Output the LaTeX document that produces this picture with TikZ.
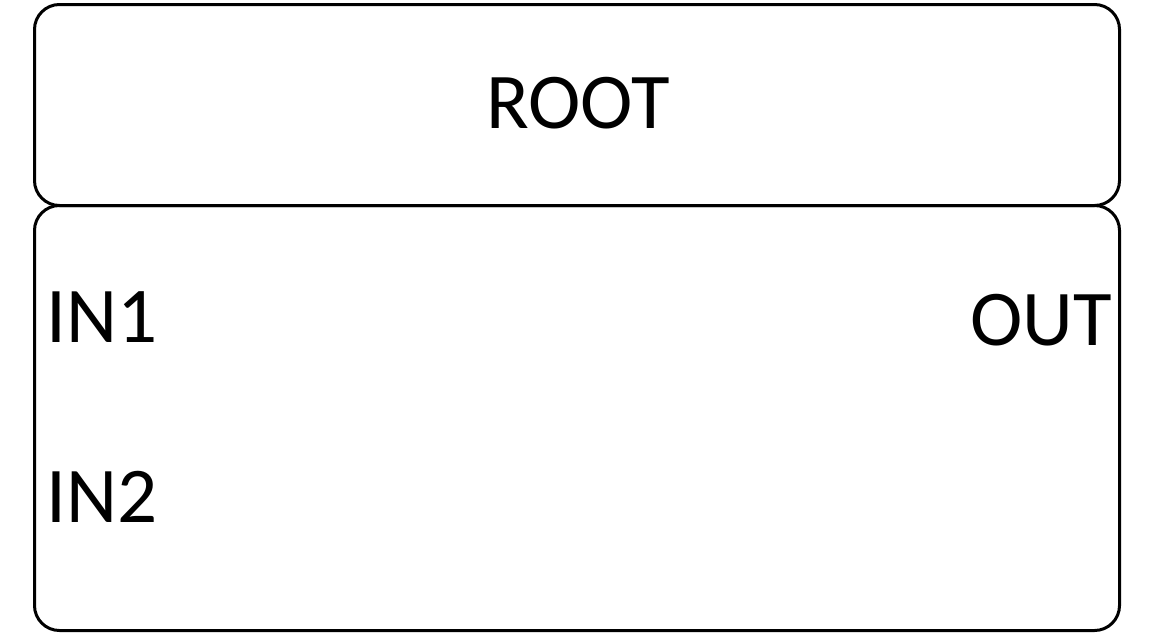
\documentclass[tikz,border=0pt]{standalone}
\usepackage{fontspec}
\setmainfont{Carlito}
\begin{document}
\begin{tikzpicture}[x=0.5pt,y=-0.5pt,
  panel/.style={draw=black,line width=1.5pt,rounded corners=12.5pt},
  lbl/.style={inner sep=0pt,font=\fontsize{39.5pt}{40pt}\selectfont}]
\path[use as bounding box] (0,0) rectangle (1154,632);
\node[panel,minimum width=542.5pt,minimum height=100.5pt,anchor=north west] (root) at (33,3) {};
\node[panel,minimum width=542.5pt,minimum height=212.5pt,anchor=north west] (body) at (33,204) {};
\node[lbl,anchor=base] (rootlbl) at (578,128) {ROOT};
\node[lbl,anchor=base west] (in1) at (46,342) {IN1};
\node[lbl,anchor=base west] (in2) at (46,522) {IN2};
\node[lbl,anchor=base east] (out) at (1112,345) {OUT};
\end{tikzpicture}
\end{document}
